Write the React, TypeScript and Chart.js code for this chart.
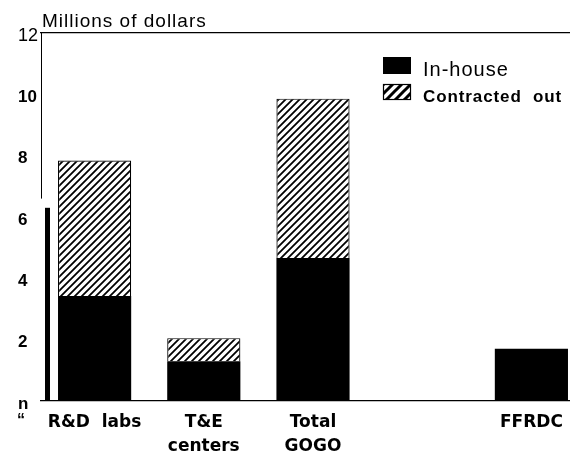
import React, { useEffect, useRef } from "react";
import { Chart, registerables } from "chart.js";

Chart.register(...registerables);

// ---- data ----
const categories: (string | string[])[] = ["R&D  labs", ["T&E", "centers"], ["Total", "GOGO"], "", "FFRDC"];
const inHouse: (number | null)[] = [3.42, 1.3, 4.66, null, 1.7];
const contractedOut: (number | null)[] = [4.42, 0.75, 5.2, null, null];
const seriesNames = ["In-house", "Contracted  out"];
const yTickValues = [0, 2, 4, 6, 8, 10, 12];
const yTickLabels = ["n", "2", "4", "6", "8", "10", "12"];
const axisTitle = "Millions of dollars";
const strayMark = "\u201C";

function makeHatch(ctx: CanvasRenderingContext2D, spacing: number, lw: number) {
  const c = document.createElement("canvas");
  c.width = spacing;
  c.height = spacing;
  const g = c.getContext("2d")!;
  g.fillStyle = "#fff";
  g.fillRect(0, 0, spacing, spacing);
  g.strokeStyle = "#000";
  g.lineWidth = lw;
  g.lineCap = "square";
  g.beginPath();
  g.moveTo(-2, spacing + 2);
  g.lineTo(spacing + 2, -2);
  g.moveTo(-2, 2);
  g.lineTo(2, -2);
  g.moveTo(spacing - 2, spacing + 2);
  g.lineTo(spacing + 2, spacing - 2);
  g.stroke();
  return ctx.createPattern(c, "repeat")!;
}

const SANS = '"Liberation Sans", Arial, Helvetica, sans-serif';
const WIDE = '"DejaVu Sans", Verdana, sans-serif';

export default function App() {
  const ref = useRef<HTMLCanvasElement | null>(null);

  useEffect(() => {
    const canvas = ref.current!;
    const ctx = canvas.getContext("2d")!;
    const hatch = makeHatch(ctx, 7, 1.8);
    const legendHatch = makeHatch(ctx, 9, 3);

    const decor = {
      id: "decor",
      afterDraw(chart: any) {
        const c = chart.ctx as any;
        const ys = chart.scales.y;
        const area = chart.chartArea;
        c.save();
        // axis title
        c.fillStyle = "#000";
        c.font = `19px ${SANS}`;
        c.letterSpacing = "1px";
        c.textAlign = "left";
        c.textBaseline = "alphabetic";
        c.fillText(axisTitle, area.left + 2, 27);
        c.letterSpacing = "0px";
        // left axis (thin upper part, heavy lower part as in the scan)
        c.strokeStyle = "#000";
        c.lineWidth = 1;
        c.beginPath();
        c.moveTo(area.left + 1.5, ys.getPixelForValue(12));
        c.lineTo(area.left + 1.5, ys.getPixelForValue(6.6));
        c.stroke();
        c.fillRect(area.left + 5, ys.getPixelForValue(6.3), 5, ys.getPixelForValue(0) - ys.getPixelForValue(6.3));
        // stray mark under the axis
        c.font = `bold 16px ${SANS}`;
        c.textBaseline = "top";
        c.fillText(strayMark, 17, 413);
        // legend
        const lx = 383;
        c.fillStyle = "#000";
        c.fillRect(lx, 57, 28, 17);
        c.fillStyle = legendHatch;
        c.fillRect(lx, 84, 28, 16);
        c.strokeStyle = "#000";
        c.lineWidth = 1.2;
        c.strokeRect(lx + 0.5, 84.5, 27, 15);
        c.fillStyle = "#000";
        c.textBaseline = "alphabetic";
        c.font = `20px ${SANS}`;
        c.letterSpacing = "1px";
        c.fillText(seriesNames[0], 423, 76);
        c.font = `bold 17px ${SANS}`;
        c.letterSpacing = "0.9px";
        c.fillText(seriesNames[1], 423, 102);
        c.letterSpacing = "0px";
        c.restore();
      },
    };

    const chart = new Chart(canvas, {
      type: "bar",
      data: {
        labels: categories as any,
        datasets: [
          {
            label: seriesNames[0],
            data: inHouse as any,
            backgroundColor: "#000",
            borderColor: "#000",
            borderWidth: 0,
          },
          {
            label: seriesNames[1],
            data: contractedOut as any,
            backgroundColor: hatch as any,
            borderColor: "#000",
            borderWidth: 1.2,
            borderSkipped: "bottom",
          },
        ],
      },
      options: {
        responsive: false,
        animation: false,
        layout: { padding: { left: 18, top: 33, right: 0, bottom: 0 } },
        datasets: { bar: { categoryPercentage: 1, barPercentage: 0.67 } },
        plugins: { legend: { display: false }, tooltip: { enabled: false }, title: { display: false } },
        scales: {
          x: {
            stacked: true,
            grid: { display: false, drawTicks: false },
            border: { display: false },
            ticks: {
              color: "#000",
              padding: 9,
              maxRotation: 0,
              autoSkip: false,
              font: { family: WIDE, weight: "bold", size: 17, lineHeight: 1.45 },
            },
            afterFit(scale: any) {
              scale.height = 50;
            },
          },
          y: {
            stacked: true,
            min: 0,
            max: 12,
            afterBuildTicks(scale: any) {
              scale.ticks = yTickValues.map((v) => ({ value: v }));
            },
            afterFit(scale: any) {
              scale.width = 22;
            },
            grid: {
              drawTicks: false,
              color: (c: any) => (c.tick && (c.tick.value === 0 || c.tick.value === 12) ? "#000" : "rgba(0,0,0,0)"),
              lineWidth: 1.2,
            },
            border: { display: false },
            ticks: {
              color: "#000",
              crossAlign: "far",
              padding: 0,
              labelOffset: 3,
              callback: (v: any) => {
                const i = yTickValues.indexOf(Number(v));
                return i >= 0 ? yTickLabels[i] : "";
              },
              font: (c: any) =>
                c.tick && c.tick.value === 12
                  ? { family: SANS, size: 18, weight: "normal" }
                  : { family: SANS, size: 17, weight: "bold" },
            },
          },
        },
      },
      plugins: [decor],
    });
    return () => chart.destroy();
  }, []);

  return (
    <div style={{ position: "fixed", left: 0, top: 0, width: 570, height: 451, overflow: "hidden", background: "#fff" }}>
      <canvas ref={ref} width={586} height={451} style={{ display: "block", width: 586, height: 451 }} />
    </div>
  );
}
